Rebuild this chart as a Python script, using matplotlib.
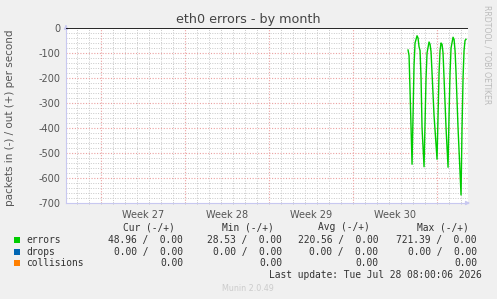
import matplotlib
matplotlib.use('Agg')
import matplotlib.pyplot as plt

# time axis: days since Monday of week 27 (Jun 29), 2h per pixel in the original graph
error_days = [25.583, 25.667, 25.75, 25.917, 26.0, 26.083, 26.167, 26.333, 26.417, 26.5,
              26.583, 26.667, 26.75, 26.917, 27.0, 27.083, 27.167, 27.333, 27.417, 27.5,
              27.583, 27.75, 28.0, 28.083, 28.167, 28.25, 28.333, 28.417, 28.5, 28.583,
              28.75, 28.917, 29.0, 29.083, 29.167, 29.333, 29.417, 29.5, 29.583, 29.75,
              30.0, 30.083, 30.167, 30.25, 30.333, 30.417]
# errors in (plotted negative), packets per second
error_in = [-88, -110, -250, -545, -350, -150, -60, -31, -40, -75,
            -90, -200, -400, -555, -380, -200, -100, -56, -65, -95,
            -180, -350, -525, -350, -180, -90, -60, -65, -100, -200,
            -400, -557, -350, -180, -80, -37, -45, -90, -180, -400,
            -668, -400, -200, -90, -50, -45]

week_labels = ['Week 27', 'Week 28', 'Week 29', 'Week 30']
week_starts = [0, 7, 14, 21, 28]
y_ticks = [0, -100, -200, -300, -400, -500, -600, -700]

legend_names = ['errors', 'drops', 'collisions']
legend_colors = ['#00CC00', '#0066B3', '#FF8000']
cur_vals = ['48.96 /  0.00', '0.00 /  0.00', '0.00']
min_vals = ['28.53 /  0.00', '0.00 /  0.00', '0.00']
avg_vals = ['220.56 /  0.00', '0.00 /  0.00', '0.00']
max_vals = ['721.39 /  0.00', '0.00 /  0.00', '0.00']

W, H = 497, 299
fig = plt.figure(figsize=(W / 100, H / 100), dpi=100, facecolor='#F0F0F0')
left, right, top, bottom = 66, 468, 28, 203
ax = fig.add_axes([left / W, 1 - bottom / H, (right - left) / W, (bottom - top) / H])
ax.set_facecolor('white')

xmin, xmax = -2.92, 30.58
ax.set_xlim(xmin, xmax)
ax.set_ylim(-700, 0)

# grid: minor grey, major red
minor_c = '#C8C8C8'
major_c = '#EBA0A0'
for d in range(-2, 31):
    if d % 7 == 0:
        continue
    ax.axvline(d, color=minor_c, lw=0.7, ls=(0, (1, 1.5)), zorder=1)
for v in range(-680, 0, 20):
    if v % 100 == 0:
        continue
    ax.axhline(v, color=minor_c, lw=0.7, ls=(0, (1, 1.5)), zorder=1)
for d in week_starts:
    ax.axvline(d, color=major_c, lw=0.8, ls=(0, (1, 1.5)), zorder=1)
for v in y_ticks[1:-1]:
    ax.axhline(v, color=major_c, lw=0.8, ls=(0, (1, 1.5)), zorder=1)

ax.plot(error_days, error_in, color='#00CC00', lw=1.0, zorder=3)
ax.axhline(0, color='black', lw=1.2, zorder=4)

for s in ['top', 'right']:
    ax.spines[s].set_visible(False)
for s in ['left', 'bottom']:
    ax.spines[s].set_color('#C8C8F0')
    ax.spines[s].set_linewidth(0.8)

ax.set_yticks(y_ticks)
ax.set_yticklabels([str(v) for v in y_ticks])
ax.set_xticks([d + 3.5 for d in week_starts[:-1]])
ax.set_xticklabels(week_labels)
ax.tick_params(axis='both', length=0, labelsize=7, labelcolor='#555555', pad=4)
ax.tick_params(axis='x', pad=5)

# small axis ticks like rrdtool
ax.set_xticks(range(-2, 31), minor=True)
ax.tick_params(axis='x', which='minor', length=2, color='#BBBBBB', direction='inout', width=0.6)

# axis arrows
ax.annotate('', xy=(0, 1.035), xytext=(0, 0.99), xycoords='axes fraction',
            arrowprops=dict(arrowstyle='-|>', color='#C8C8F0', lw=0.8, mutation_scale=6),
            annotation_clip=False)
ax.annotate('', xy=(1.012, 0), xytext=(0.99, 0), xycoords='axes fraction',
            arrowprops=dict(arrowstyle='-|>', color='#C8C8F0', lw=0.8, mutation_scale=6),
            annotation_clip=False)

fig.text(248 / W, 1 - 19 / H, 'eth0 errors - by month', ha='center', va='center',
         fontsize=9.2, color='#444444')
fig.text(10 / W, 1 - 118 / H, 'packets in (-) / out (+) per second', rotation=90,
         ha='center', va='center', fontsize=7.5, color='#555555')
fig.text(487 / W, 1 - 5 / H, 'RRDTOOL / TOBI OETIKER', rotation=270, ha='center',
         va='top', fontsize=5.6, color='#BBBBBB')

mono = 'DejaVu Sans Mono'
fs = 6.9
tc = '#333333'


def px(x, y):
    return x / W, 1 - y / H


cols = [(183, 'Cur (-/+)', cur_vals), (282, 'Min (-/+)', min_vals),
        (378, 'Avg (-/+)', avg_vals), (477, 'Max (-/+)', max_vals)]
for xr, head, vals in cols:
    fig.text(*px(xr - 8, 227), head, ha='right', va='center', family=mono, fontsize=fs, color=tc)
    for i, val in enumerate(vals):
        fig.text(*px(xr, 240 + 11.7 * i), val, ha='right', va='center', family=mono,
                 fontsize=fs, color=tc)

for i, (name, c) in enumerate(zip(legend_names, legend_colors)):
    y = 240 + 11.7 * i
    fig.patches.append(plt.Rectangle(px(14, y + 3), 6 / W, 6 / H, transform=fig.transFigure,
                                     facecolor=c, edgecolor='none'))
    fig.text(*px(26, y), name, ha='left', va='center', family=mono, fontsize=fs, color=tc)

fig.text(*px(482, 275.5), 'Last update: Tue Jul 28 08:00:06 2026', ha='right', va='center',
         family=mono, fontsize=fs, color=tc)
fig.text(*px(248, 288.5), 'Munin 2.0.49', ha='center', va='center', fontsize=5.8,
         color='#CCCCCC')

fig.savefig('out.png', dpi=100, facecolor=fig.get_facecolor())
